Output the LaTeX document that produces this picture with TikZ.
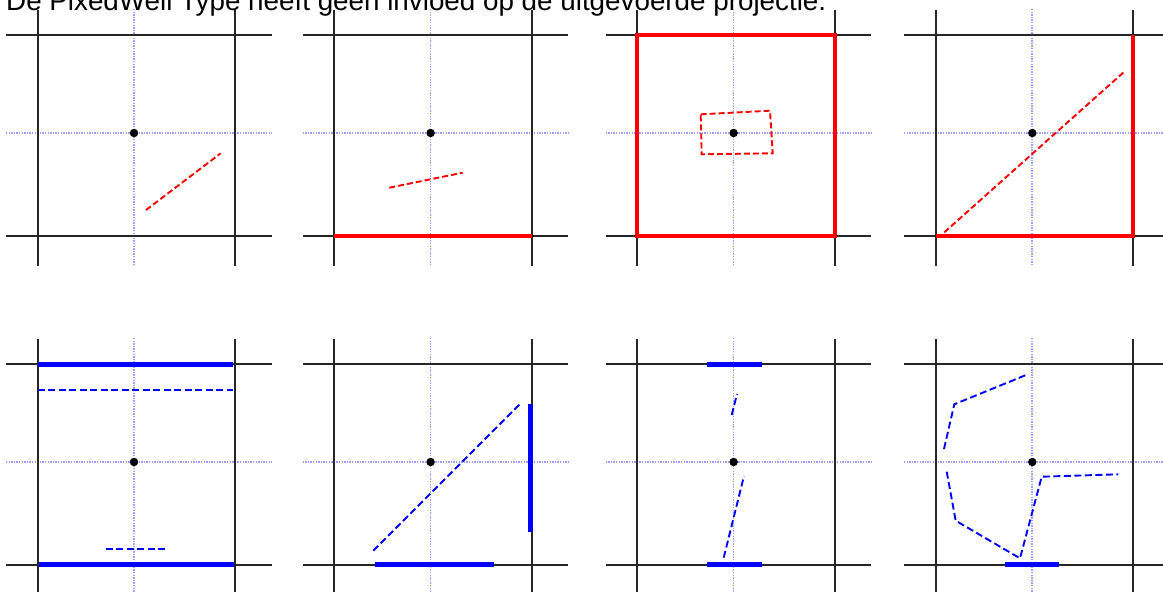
\documentclass[tikz,border=0pt]{standalone}
\usepackage{fontspec}
\setmainfont{Liberation Sans}
\begin{document}
\begin{tikzpicture}[x=1pt,y=-1pt,
  axisline/.style={draw=black!85,line width=1.9pt},
  centerline/.style={draw=blue!38,line width=1.4pt,dash pattern=on 1.3pt off 1.3pt},
  redthick/.style={draw=red,line width=4.2pt},
  reddash/.style={draw=red,line width=1.9pt,dash pattern=on 6pt off 3pt},
  bluethick/.style={draw=blue,line width=4.8pt},
  bluedash/.style={draw=blue,line width=1.9pt,dash pattern=on 7pt off 3.5pt},
  centerdot/.style={circle,fill=black,inner sep=0pt,minimum size=8.5pt},
  panelframe/.pic={
    \draw[centerline] (96.3,-26) -- (96.3,230.5);
    \draw[centerline] (-31.7,98) -- (234,98);
    \draw[axisline] (0,-25) -- (0,230.7);
    \draw[axisline] (197.6,-25) -- (197.6,230.7);
    \draw[axisline] (-31.7,0) -- (234,0);
    \draw[axisline] (-31.7,200.7) -- (234,200.7);
  }]
\useasboundingbox (0,0) rectangle (1163,592);
\clip (0,0) rectangle (1163,592);
\fill[white] (0,0) rectangle (1163,592);

\node[anchor=base west,inner sep=0pt,font=\fontsize{27.8}{33}\selectfont] (title) at (6,10.5)
  {De PixedWell Type heeft geen invloed op de uitgevoerde projectie.};

% frames
\pic at (37.7,35) {panelframe};
\pic at (334.3,35) {panelframe};
\pic at (637.3,35) {panelframe};
\pic at (935.7,35) {panelframe};
\pic at (37.7,364) {panelframe};
\pic at (334.3,364) {panelframe};
\pic at (637.3,364) {panelframe};
\pic at (935.7,364) {panelframe};

% panel 1
\draw[reddash] (146,210) -- (220.7,153.3);
% panel 2
\draw[redthick] (334.3,235.7) -- (531.9,235.7);
\draw[reddash] (389.3,187.7) -- (462.7,172.7);
% panel 3
\draw[redthick] (637.3,35) rectangle (834.9,235.7);
\draw[reddash] (700.7,114.3) -- (770,110.7) -- (772.7,153.3) -- (701.7,154.3) -- cycle;
% panel 4
\draw[redthick] (935.7,235.7) -- (1133.3,235.7) -- (1133.3,35);
\draw[reddash] (944.3,232.3) -- (1124.3,71.7);

% panel 5
\draw[bluethick] (37.7,364.3) -- (233.3,364.3);
\draw[bluethick] (39,564.5) -- (234,564.5);
\draw[bluedash] (37.7,389.7) -- (233.3,389.7);
\draw[bluedash] (105.7,549.3) -- (167.3,549.3);
% panel 6
\draw[bluedash] (373.3,550.7) -- (520.7,403.3);
\draw[bluethick] (530.7,404) -- (530.7,532.3);
\draw[bluethick] (374.7,564.7) -- (494,564.7);
% panel 7
\draw[bluethick] (707.3,364.3) -- (762,364.3);
\draw[bluethick] (707.3,564.7) -- (762,564.7);
\draw[bluedash] (731.7,415) -- (737,394);
\draw[bluedash] (723.7,557.7) -- (744,476);
% panel 8
\draw[bluedash] (1025.3,375.3) -- (954.3,404.3) -- (944,449);
\draw[bluedash] (946.7,471.7) -- (955.7,520.7) -- (1020,558.3) -- (1041.7,476.7) -- (1118.3,474.3);
\draw[bluethick] (1005,564.7) -- (1059.3,564.7);

% centre dots
\node[centerdot] (c1) at (134,133) {};
\node[centerdot] (c2) at (430.6,133) {};
\node[centerdot] (c3) at (733.6,133) {};
\node[centerdot] (c4) at (1032.3,133) {};
\node[centerdot] (c5) at (134,462) {};
\node[centerdot] (c6) at (430.6,462) {};
\node[centerdot] (c7) at (733.6,462) {};
\node[centerdot] (c8) at (1032.3,462) {};
\end{tikzpicture}
\end{document}
